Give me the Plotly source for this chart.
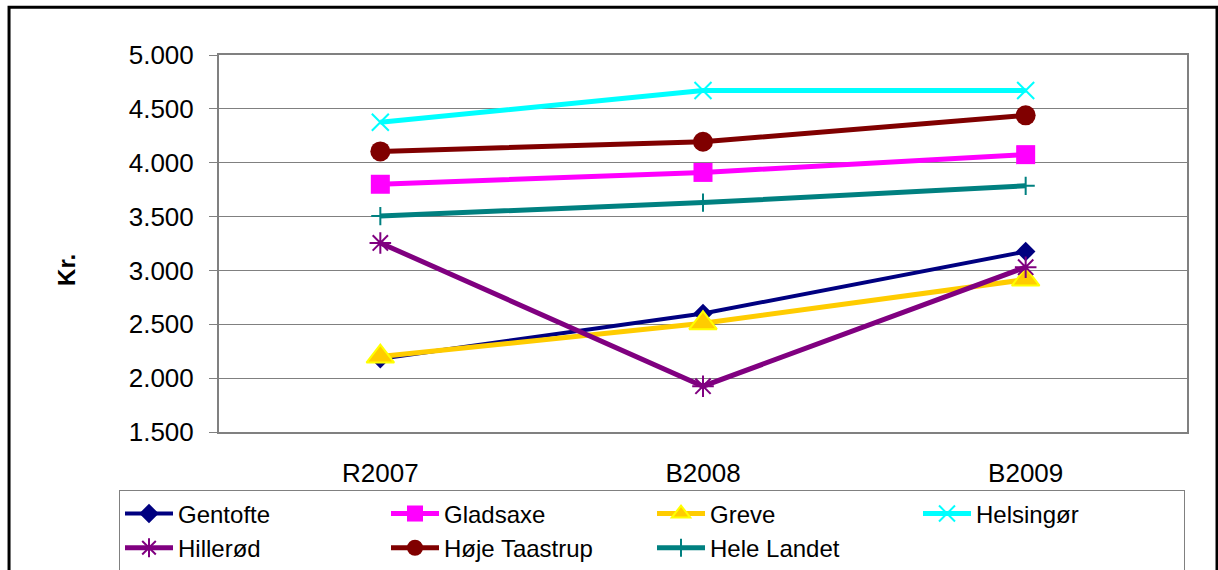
import plotly.graph_objects as go

# Budget periods on the category axis
categories = ["R2007", "B2008", "B2009"]

# Amount in kr. per municipality
gentofte = [2180, 2600, 3175]
gladsaxe = [3800, 3910, 4075]
greve = [2200, 2510, 2915]
helsingor = [4375, 4670, 4670]
hillerod = [3255, 1925, 3030]
hoje_taastrup = [4105, 4195, 4440]
hele_landet = [3505, 3630, 3785]

names = ["Gentofte", "Gladsaxe", "Greve", "Helsingør", "Hillerød", "Høje Taastrup", "Hele Landet"]
series = [gentofte, gladsaxe, greve, helsingor, hillerod, hoje_taastrup, hele_landet]

y_ticks = [1500, 2000, 2500, 3000, 3500, 4000, 4500, 5000]

styles = [
    dict(line=dict(color="#000080", width=4),
         marker=dict(symbol="diamond", size=15, color="#000080")),
    dict(line=dict(color="#FF00FF", width=5),
         marker=dict(symbol="square", size=19, color="#FF00FF")),
    dict(line=dict(color="#FFCC00", width=5),
         marker=dict(symbol="triangle-up", size=24, color="#FFCC00",
                     line=dict(color="#FFFF00", width=2))),
    dict(line=dict(color="#00FFFF", width=5),
         marker=dict(symbol="x-thin-open", size=17, color="#00FFFF",
                     line=dict(color="#00FFFF", width=2))),
    dict(line=dict(color="#800080", width=5),
         marker=dict(symbol="asterisk-open", size=18, color="#800080",
                     line=dict(color="#800080", width=2))),
    dict(line=dict(color="#800000", width=5),
         marker=dict(symbol="circle", size=20, color="#800000")),
    dict(line=dict(color="#008080", width=5),
         marker=dict(symbol="cross-thin-open", size=13, color="#008080",
                     line=dict(color="#008080", width=2))),
]

fig = go.Figure()
for name, values, style in zip(names, series, styles):
    fig.add_trace(go.Scatter(x=categories, y=values, name=name,
                             mode="lines+markers", **style))

font_family = "Liberation Sans, Arial, sans-serif"

fig.update_layout(
    width=1218, height=570,
    margin=dict(l=219, r=31, t=55, b=138, autoexpand=False),
    paper_bgcolor="white", plot_bgcolor="white",
    separators=",.",
    font=dict(family=font_family, size=24, color="black"),
    showlegend=True,
    legend=dict(
        orientation="h",
        x=-0.1033, xanchor="left",
        y=-0.155, yanchor="top",
        itemwidth=48,
        entrywidth=203, entrywidthmode="pixels",
        bordercolor="#808080", borderwidth=1,
        bgcolor="white",
        font=dict(family=font_family, size=24, color="black"),
        traceorder="normal",
    ),
    xaxis=dict(
        type="category",
        categoryorder="array", categoryarray=categories,
        range=[-0.5, 2.5],
        showgrid=False, zeroline=False,
        showline=True, linecolor="#808080", linewidth=2, mirror=True,
        ticks="", ticklabelstandoff=17,
        tickfont=dict(family=font_family, size=26, color="black"),
    ),
    yaxis=dict(
        range=[1500, 5000],
        tickvals=y_ticks, tickformat=",.0f",
        showgrid=True, gridcolor="#808080", gridwidth=1,
        zeroline=False,
        showline=True, linecolor="#808080", linewidth=2, mirror=True,
        ticks="outside", ticklen=8, tickcolor="#808080", tickwidth=1,
        ticklabelstandoff=10,
        tickfont=dict(family=font_family, size=26, color="black"),
    ),
    annotations=[
        dict(text="<b>Kr.</b>", xref="paper", yref="paper",
             x=-0.157, y=0.43, xanchor="center", yanchor="middle",
             textangle=-90, showarrow=False,
             font=dict(family=font_family, size=24, color="black")),
    ],
    shapes=[
        # Outer chart frame
        dict(type="rect", xref="paper", yref="paper",
             x0=-0.2169, x1=1.0310, y0=-0.45, y1=1.1265,
             line=dict(color="black", width=3), layer="below"),
    ],
)

fig.write_html("out.html")
